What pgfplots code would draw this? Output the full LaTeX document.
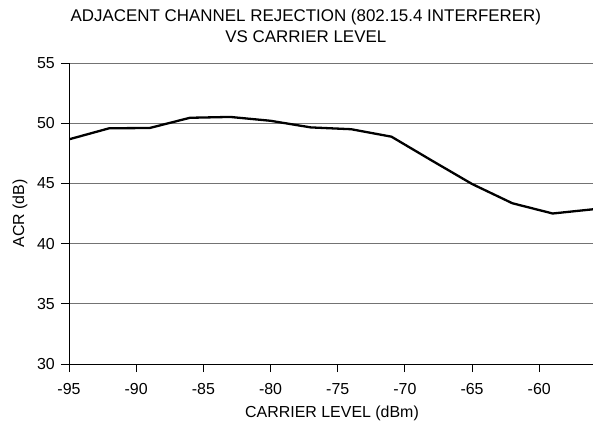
\documentclass[border=0pt]{standalone}
\usepackage{fontspec}
\setmainfont{Liberation Sans}
\usepackage{pgfplots}
\pgfplotsset{compat=1.18}

\pgfplotstableread{
x    acr
-95  48.66
-92  49.58
-89  49.60
-86  50.45
-83  50.52
-80  50.20
-77  49.65
-74  49.50
-71  48.88
-68  46.90
-65  44.95
-62  43.35
-59  42.50
-56  42.85
}\acrdata

\begin{document}
\begin{tikzpicture}
\useasboundingbox (0,0) rectangle (593bp,425bp);
\begin{axis}[
  at={(69bp,61bp)}, anchor=south west,
  scale only axis, width=524bp, height=301bp,
  xmin=-95, xmax=-56, ymin=30, ymax=55,
  xtick={-95,-90,...,-60}, ytick={30,35,...,55},
  axis x line*=bottom, axis y line*=left,
  axis line style={black, line width=0.9bp, -},
  xtick align=outside, ytick align=outside, major tick length=8bp,
  xtick pos=bottom, ytick pos=left,
  tick style={black, line width=0.8bp},
  ymajorgrids, grid style={black!55, line width=0.9bp},
  /pgf/number format/assume math mode=true,
  tick label style={font=\fontsize{16}{18}\selectfont},
  xticklabel style={anchor=north, inner sep=0pt, yshift=-11bp},
  yticklabel style={anchor=east, inner sep=0pt, xshift=-6bp},
  title={ADJACENT CHANNEL REJECTION (802.15.4 INTERFERER)\\VS CARRIER LEVEL},
  title style={at={(0.452,1)}, anchor=south, inner sep=0pt, yshift=14bp,
    align=center, font=\fontsize{17}{21.5}\selectfont},
  xlabel={CARRIER LEVEL (dBm)},
  xlabel style={at={(axis description cs:0.502,0)}, anchor=base, inner sep=0pt,
    yshift=-53bp, font=\fontsize{16}{18}\selectfont},
  ylabel={ACR (dB)},
  ylabel style={at={(axis description cs:-0.0935,0.5)}, anchor=center, inner sep=0pt,
    font=\fontsize{16}{18}\selectfont},
  clip=true,
]
\addplot[black, line width=2.3bp, line join=round] table[x=x, y=acr] {\acrdata};
\end{axis}
\end{tikzpicture}
\end{document}
